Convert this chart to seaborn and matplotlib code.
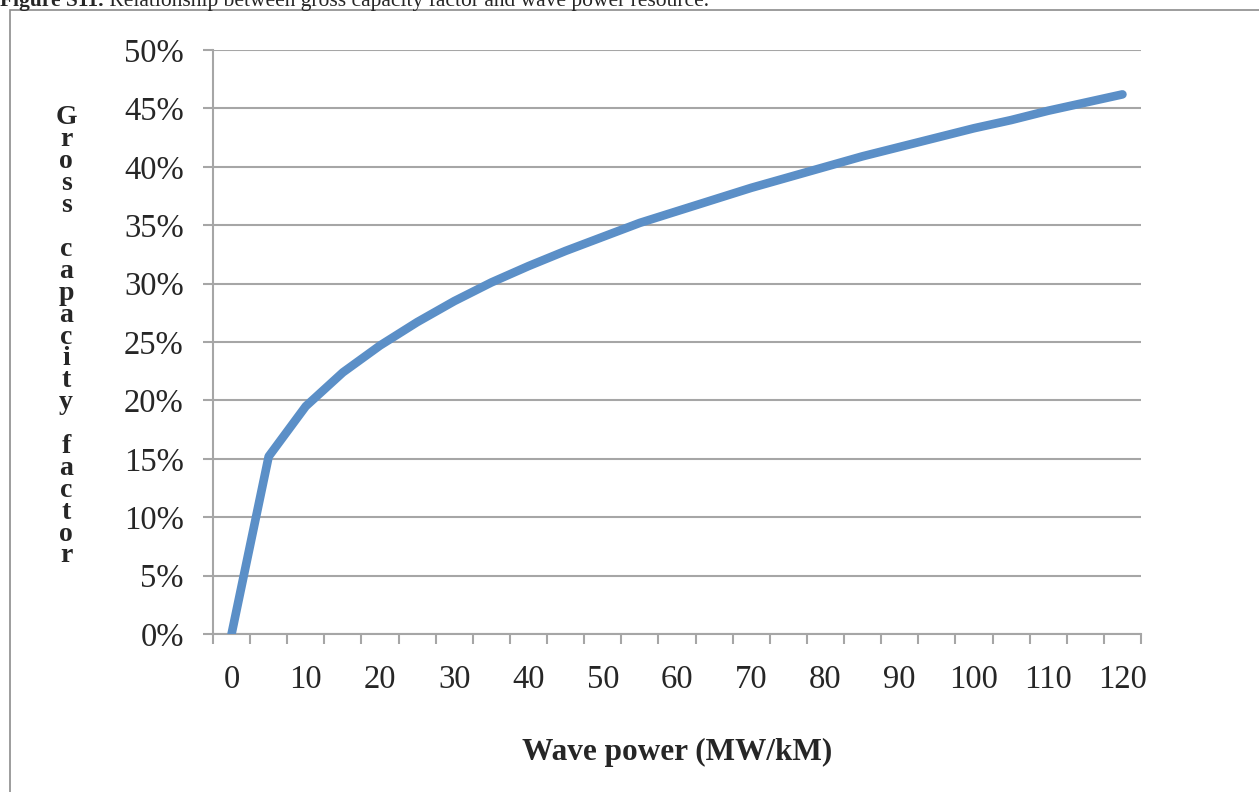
"""Gross capacity factor vs. wave power resource (Figure S11 style line chart)."""
import matplotlib

matplotlib.use("Agg")
import matplotlib.pyplot as plt
import numpy as np
import pandas as pd
import seaborn as sns
from matplotlib.patches import Rectangle
from matplotlib.ticker import FixedLocator, FuncFormatter

# --------------------------------------------------------------------------- #
# Data
# --------------------------------------------------------------------------- #
wave_power = [0, 5, 10, 15, 20, 25, 30, 35, 40, 45, 50, 55, 60,
              65, 70, 75, 80, 85, 90, 95, 100, 105, 110, 115, 120]
capacity_pct = [0.0, 15.2, 19.5, 22.4, 24.7, 26.7, 28.5, 30.1, 31.5, 32.8,
                34.0, 35.2, 36.2, 37.2, 38.2, 39.1, 40.0, 40.9, 41.7, 42.5,
                43.3, 44.0, 44.8, 45.5, 46.2]
y_ticks = [0, 5, 10, 15, 20, 25, 30, 35, 40, 45, 50]
x_labels = [0, 10, 20, 30, 40, 50, 60, 70, 80, 90, 100, 110, 120]

caption_bold = "Figure S11."
caption_rest = " Relationship between gross capacity factor and wave power resource."
y_title = "Gross capacity factor"
x_title = "Wave power (MW/kM)"

LINE_COLOR = "#5b8fc7"
GRID_COLOR = "#a6a6a6"
SERIF = ["Liberation Serif", "DejaVu Serif"]

sns.set_style("white")
plt.rcParams["font.family"] = SERIF

df = pd.DataFrame({"wave": wave_power, "cf": capacity_pct})

fig = plt.figure(figsize=(12.59, 7.92), dpi=100)
ax = fig.add_axes([213 / 1259, 1 - 634 / 792, (1141 - 213) / 1259, (634 - 50) / 792])

sns.lineplot(data=df, x="wave", y="cf", ax=ax, color=LINE_COLOR, linewidth=6.2,
             solid_capstyle="round", solid_joinstyle="round", zorder=3)

# category-style x axis: ticks on the boundaries, labels every other category
step = wave_power[1] - wave_power[0]
ax.set_xlim(wave_power[0] - step / 2, wave_power[-1] + step / 2)
ax.xaxis.set_major_locator(FixedLocator(np.append(np.array(wave_power) - step / 2,
                                                  wave_power[-1] + step / 2)))
ax.xaxis.set_major_formatter(FuncFormatter(lambda v, p: ""))
ax.xaxis.set_minor_locator(FixedLocator(x_labels))
ax.xaxis.set_minor_formatter(FuncFormatter(lambda v, p: f"{v:.0f}"))
ax.tick_params(axis="x", which="major", direction="out", length=7, width=1.5,
               color=GRID_COLOR, bottom=True)
ax.tick_params(axis="x", which="minor", length=0, pad=22, labelsize=23.5)

ax.set_ylim(y_ticks[0], y_ticks[-1])
ax.set_yticks(y_ticks)
ax.yaxis.set_major_formatter(FuncFormatter(lambda v, p: f"{v:.0f}%"))
ax.tick_params(axis="y", direction="out", length=7, width=1.5, color=GRID_COLOR,
               left=True, pad=14, labelsize=23.5)

ax.grid(axis="y", color=GRID_COLOR, linewidth=1.5)
ax.grid(axis="x", visible=False)
ax.set_axisbelow(True)
for side in ("top", "right"):
    ax.spines[side].set_visible(False)
for side in ("left", "bottom"):
    ax.spines[side].set_color(GRID_COLOR)
    ax.spines[side].set_linewidth(1.5)

ax.set_ylabel("")
ax.set_xlabel(x_title, fontsize=22.5, fontweight="bold", labelpad=31)

# stacked (one letter per line) y title
top_px, line_px = 118, 21.9
for i, ch in enumerate(y_title):
    if ch == " ":
        continue
    fig.text(66 / 1259, 1 - (top_px + i * line_px) / 792, ch, ha="center",
             va="center", fontsize=20, fontweight="bold")

# caption cut off by the top edge of the page
t = fig.text(0.0, 1 - 6 / 792, caption_bold, ha="left", va="baseline",
             fontsize=15.5, fontweight="bold")
fig.canvas.draw()
bb = t.get_window_extent()
fig.text(bb.x1 / 1259, 1 - 6 / 792, caption_rest, ha="left", va="baseline",
         fontsize=15.5)

# frame around the chart area
fig.patches.append(Rectangle((10 / 1259, -0.05), 1.1, 1 - 10 / 792 + 0.05,
                             transform=fig.transFigure, fill=False,
                             edgecolor="#8c8c8c", linewidth=1.2))

fig.savefig("out.png", dpi=100)
